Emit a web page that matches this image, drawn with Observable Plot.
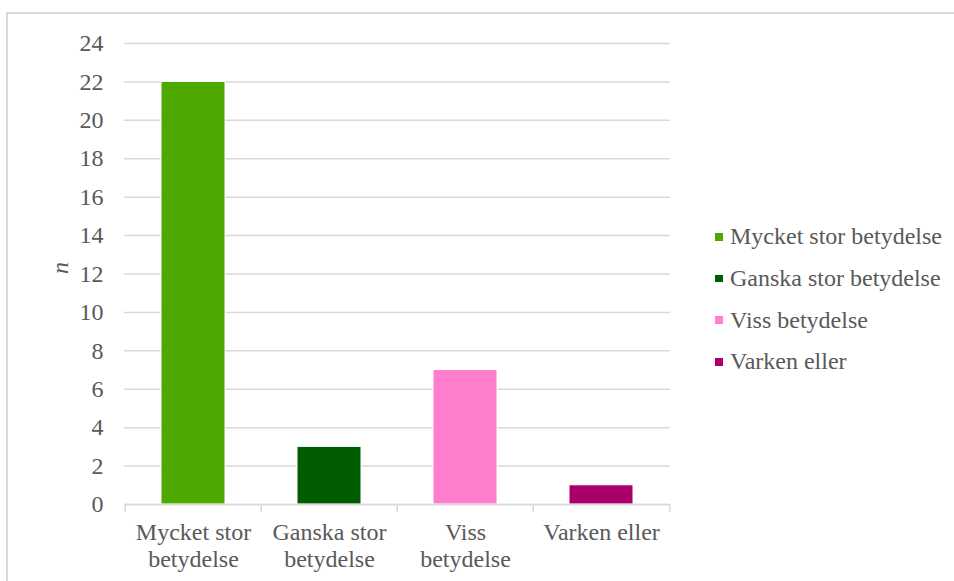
<!DOCTYPE html>
<html>
<head>
<meta charset="utf-8">
<script src="https://cdn.jsdelivr.net/npm/d3@7"></script>
<script src="https://cdn.jsdelivr.net/npm/@observablehq/plot@0.6"></script>
<style>
  body { margin: 0; background: #fff; }
  #wrap { position: relative; width: 954px; height: 581px; overflow: hidden; background: #fff; }
  #border { position: absolute; left: 6px; top: 12px; width: 1000px; height: 700px; border: 2px solid #d9d9d9; box-sizing: border-box; }
  #chart { position: absolute; left: 0; top: 0; }
  #legend { position: absolute; left: 715px; top: 216px; font-family: "Liberation Serif", "Times New Roman", serif; font-size: 24px; color: #595959; }
  .row { height: 41.7px; display: flex; align-items: center; white-space: nowrap; }
  .sw { width: 7.5px; height: 7.5px; margin-right: 7.5px; flex: none; }
</style>
</head>
<body>
<div id="wrap">
  <div id="border"></div>
  <div id="chart"></div>
  <div id="legend"></div>
</div>
<script>
// ---- data ----
const categories = ["Mycket stor betydelse", "Ganska stor betydelse", "Viss betydelse", "Varken eller"];
const xLabels = ["Mycket stor\nbetydelse", "Ganska stor\nbetydelse", "Viss\nbetydelse", "Varken eller"];
const counts = [22, 3, 7, 1];
const colors = ["#4ea800", "#005c00", "#ff7dcd", "#a8006b"];
const yTicks = [0, 2, 4, 6, 8, 10, 12, 14, 16, 18, 20, 22, 24];
const yLabel = "n";

const data = categories.map((c, i) => ({cat: c, n: counts[i]}));
const labelOf = new Map(categories.map((c, i) => [c, xLabels[i]]));

// ---- layout ----
const W = 954, H = 581;
const mL = 124, mR = 284, mT = 43, mB = 77;
const step = (W - mL - mR) / categories.length;
const grey = "#d9d9d9", textCol = "#595959";

const chart = Plot.plot({
  width: W,
  height: H,
  marginLeft: mL,
  marginRight: mR,
  marginTop: mT,
  marginBottom: mB,
  style: {fontFamily: '"Liberation Serif", "Times New Roman", serif', fontSize: "24px", color: textCol, background: "transparent"},
  x: {domain: categories, paddingInner: 0.53, paddingOuter: 0.265, label: null},
  y: {domain: [0, 24], label: null},
  color: {domain: categories, range: colors},
  marks: [
    Plot.gridY(yTicks, {stroke: grey, strokeOpacity: 1, strokeWidth: 1.5}),
    Plot.barY(data, {x: "cat", y: "n", fill: "cat", stroke: "white", strokeWidth: 1}),
    Plot.ruleY([0], {stroke: grey, strokeWidth: 1.5}),
    Plot.axisY({ticks: yTicks, tickSize: 0, tickPadding: 21, fill: textCol, label: null}),
    Plot.axisX({ticks: categories, tickSize: 8, dx: -step / 2, text: null, stroke: grey, strokeWidth: 1.5, label: null}),
    Plot.axisX({ticks: categories.slice(-1), tickSize: 8, dx: step / 2, text: null, stroke: grey, strokeWidth: 1.5, label: null}),
    Plot.axisX({ticks: categories, tickSize: 0, tickPadding: 17, tickFormat: d => labelOf.get(d), lineHeight: 1.1, fill: textCol, label: null}),
    Plot.text([yLabel], {frameAnchor: "left", dx: -64, rotate: -90, fontStyle: "italic", fill: textCol, text: d => d})
  ]
});
document.getElementById("chart").appendChild(chart);

const legend = document.getElementById("legend");
categories.forEach((c, i) => {
  const row = document.createElement("div");
  row.className = "row";
  const sw = document.createElement("span");
  sw.className = "sw";
  sw.style.background = colors[i];
  const t = document.createElement("span");
  t.textContent = c;
  row.appendChild(sw);
  row.appendChild(t);
  legend.appendChild(row);
});
</script>
</body>
</html>
